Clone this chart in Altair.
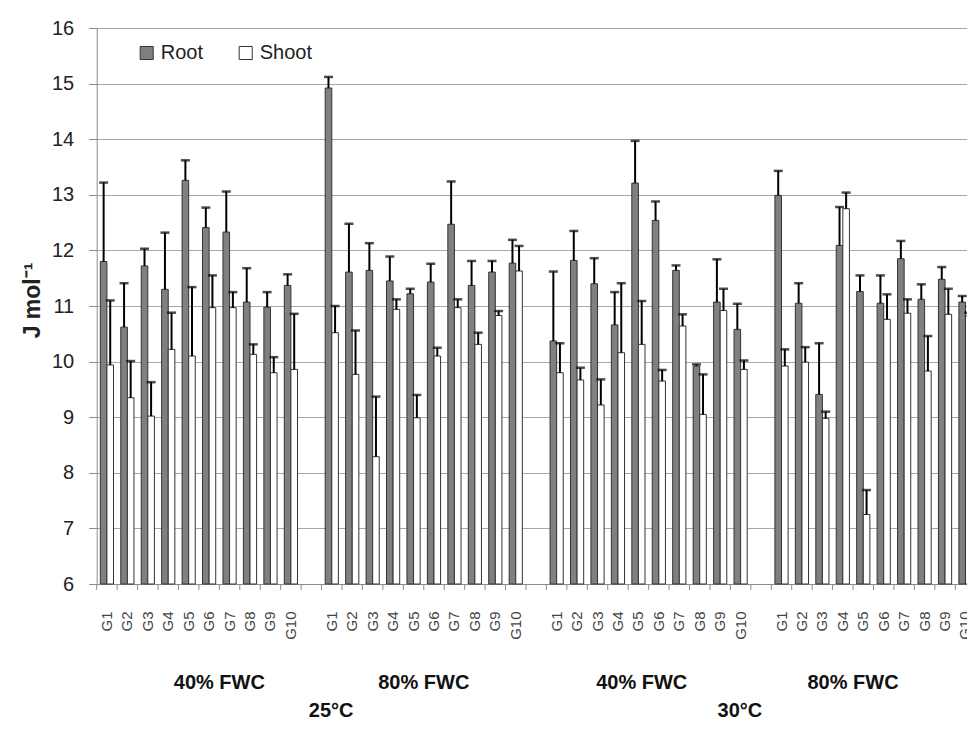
import altair as alt
import pandas as pd

# ---------------- data ----------------
genotypes = ["G1", "G2", "G3", "G4", "G5", "G6", "G7", "G8", "G9", "G10"]
series = ["Root", "Shoot"]
group_labels = ["40% FWC", "80% FWC", "40% FWC", "80% FWC"]
temp_labels = ["25°C", "30°C"]

root_25_40 = [11.80, 10.62, 11.72, 11.30, 13.26, 12.41, 12.33, 11.07, 10.98, 11.37]
root_25_40_err = [1.42, 0.79, 0.31, 1.02, 0.36, 0.36, 0.73, 0.61, 0.27, 0.20]
shoot_25_40 = [9.94, 9.35, 9.02, 10.22, 10.10, 10.97, 10.97, 10.13, 9.80, 9.86]
shoot_25_40_err = [1.16, 0.66, 0.61, 0.66, 1.24, 0.58, 0.28, 0.18, 0.28, 1.00]

root_25_80 = [14.92, 11.61, 11.64, 11.45, 11.22, 11.43, 12.47, 11.37, 11.61, 11.77]
root_25_80_err = [0.20, 0.87, 0.49, 0.44, 0.09, 0.33, 0.77, 0.44, 0.20, 0.42]
shoot_25_80 = [10.52, 9.77, 8.29, 10.94, 8.99, 10.10, 10.97, 10.31, 10.83, 11.63]
shoot_25_80_err = [0.48, 0.79, 1.08, 0.18, 0.41, 0.15, 0.15, 0.21, 0.08, 0.45]

root_30_40 = [10.37, 11.82, 11.40, 10.66, 13.21, 12.54, 11.64, 9.92, 11.07, 10.58]
root_30_40_err = [1.25, 0.53, 0.46, 0.59, 0.76, 0.34, 0.09, 0.03, 0.77, 0.46]
shoot_30_40 = [9.80, 9.67, 9.22, 10.16, 10.31, 9.65, 10.64, 9.05, 10.92, 9.86]
shoot_30_40_err = [0.53, 0.22, 0.46, 1.25, 0.78, 0.20, 0.21, 0.72, 0.39, 0.16]

root_30_80 = [12.99, 11.05, 9.41, 12.09, 11.26, 11.05, 11.85, 11.12, 11.48, 11.07]
root_30_80_err = [0.44, 0.36, 0.92, 0.69, 0.29, 0.50, 0.32, 0.27, 0.22, 0.11]
shoot_30_80 = [9.92, 9.99, 8.98, 12.75, 7.25, 10.76, 10.87, 9.83, 10.85, 10.82]
shoot_30_80_err = [0.30, 0.27, 0.12, 0.29, 0.44, 0.45, 0.25, 0.63, 0.46, 0.06]

groups = [
    (root_25_40, root_25_40_err, shoot_25_40, shoot_25_40_err),
    (root_25_80, root_25_80_err, shoot_25_80, shoot_25_80_err),
    (root_30_40, root_30_40_err, shoot_30_40, shoot_30_40_err),
    (root_30_80, root_30_80_err, shoot_30_80, shoot_30_80_err),
]

# slot keys: "group|Gx"; a blank slot "group|" separates the groups
slot_domain = []
for gi in range(4):
    slot_domain += [f"{gi}|{g}" for g in genotypes]
    if gi < 3:
        slot_domain.append(f"{gi}|")

rows = []
for gi, (rv, re, sv, se) in enumerate(groups):
    for i, g in enumerate(genotypes):
        rows.append({"slot": f"{gi}|{g}", "series": "Root", "value": rv[i], "err": re[i]})
        rows.append({"slot": f"{gi}|{g}", "series": "Shoot", "value": sv[i], "err": se[i]})
df = pd.DataFrame(rows)
df["hi"] = df["value"] + df["err"]

slots_df = pd.DataFrame({"slot": slot_domain})
group_df = pd.DataFrame({
    "slot": ["0|G7", "1|G6", "2|G5", "3|G5"],
    "label": group_labels,
    "g": [0, 1, 2, 3],
})
temp_df = pd.DataFrame({"slot": ["1|G1", "2|G10"], "label": temp_labels})

# ---------------- style ----------------
FONT = "Liberation Sans, Arial, sans-serif"
PAD_L = 88.7
SVG_W = 959
SVG_H = 715
W = SVG_W - PAD_L            # visible plot width (right end is cut, as in the original)
H = 556
RANGE = 879                  # full band range of the 43 slots
STEP = RANGE / len(slot_domain)
PI = 0.355
SHIFT = -PI / 2 * STEP       # from band start back to the slot boundary

x_enc = alt.X(
    "slot:N",
    scale=alt.Scale(domain=slot_domain, range=[0, RANGE], paddingInner=PI, paddingOuter=PI / 2),
    axis=alt.Axis(
        title=None,
        labelExpr="split(datum.value, '|')[1]",
        labelAngle=-90,
        labelAlign="right",
        labelBaseline="middle",
        labelFont=FONT,
        labelFontSize=15,
        labelColor="#444444",
        labelPadding=27,
        ticks=False,
        tickSize=0,
        domainColor="#8c8c8c",
        domainWidth=1,
        grid=False,
        labelOverlap=False,
    ),
)
xoff_enc = alt.XOffset(
    "series:N", scale=alt.Scale(domain=series, paddingInner=0, paddingOuter=0)
)
y_scale = alt.Scale(domain=[6, 16], zero=False, nice=False)

bars = alt.Chart(df).mark_bar(stroke="#333333", strokeWidth=1).encode(
    x=x_enc,
    xOffset=xoff_enc,
    y=alt.Y(
        "value:Q",
        scale=y_scale,
        axis=alt.Axis(
            values=list(range(6, 17)),
            grid=True,
            gridColor="#a8a8a8",
            gridWidth=1.2,
            domainColor="#8c8c8c",
            tickColor="#8c8c8c",
            tickSize=8,
            labelFont=FONT,
            labelFontSize=20,
            labelColor="#222222",
            labelPadding=15,
            title="J mol⁻¹",
            titleFont=FONT,
            titleFontSize=23,
            titleFontWeight="bold",
            titleColor="#222222",
            titleAngle=270,
            titleAlign="center",
            titleBaseline="middle",
            titleX=-64,
            titleY=272,
        ),
    ),
    y2=alt.datum(6),
    color=alt.Color(
        "series:N",
        scale=alt.Scale(domain=series, range=["#808080", "#ffffff"]),
        legend=alt.Legend(
            title=None,
            orient="none",
            legendX=40,
            legendY=15,
            direction="horizontal",
            symbolType="square",
            symbolSize=170,
            symbolStrokeColor="#333333",
            symbolStrokeWidth=1,
            labelFont=FONT,
            labelFontSize=20,
            labelColor="#222222",
            labelOffset=4,
            columnPadding=32,
            padding=0,
        ),
    ),
)

err_line = alt.Chart(df).mark_rule(color="black", strokeWidth=2).encode(
    x=alt.X("slot:N"), xOffset=alt.XOffset("series:N"),
    y=alt.Y("value:Q"), y2="hi:Q",
)
err_cap = alt.Chart(df).mark_tick(color="black", thickness=2.5, size=9).encode(
    x=alt.X("slot:N"), xOffset=alt.XOffset("series:N"),
    y=alt.Y("hi:Q"),
)

slot_ticks = alt.Chart(slots_df).mark_rule(color="#8c8c8c", strokeWidth=1, xOffset=SHIFT).encode(
    x=alt.X("slot:N", bandPosition=0),
    y=alt.value(H),
    y2=alt.value(H + 6),
)

text_style = dict(font=FONT, fontSize=20, fontWeight="bold", color="#111111",
                  align="center", baseline="middle")

group_text_a = alt.Chart(group_df).transform_filter("datum.g != 2").mark_text(
    dx=SHIFT, **text_style
).encode(
    x=alt.X("slot:N", bandPosition=0),
    y=alt.value(655),
    text="label:N",
)
group_text_b = alt.Chart(group_df).transform_filter("datum.g == 2").mark_text(
    **text_style
).encode(
    x=alt.X("slot:N", bandPosition=0.75),
    y=alt.value(655),
    text="label:N",
)

temp_text = alt.Chart(temp_df).mark_text(**text_style).encode(
    x=alt.X("slot:N", bandPosition=0.45),
    y=alt.value(683),
    text="label:N",
)

chart = (
    alt.layer(bars, err_line, err_cap, slot_ticks, group_text_a, group_text_b, temp_text)
    .properties(
        width=W,
        height=H,
        autosize=alt.AutoSizeParams(type="none"),
        padding={"left": PAD_L, "top": 20, "right": 0, "bottom": SVG_H - 20 - H},
        background="white",
    )
    .configure_view(stroke=None)
)

chart.save("out.html", embed_options={"renderer": "svg", "actions": False})
